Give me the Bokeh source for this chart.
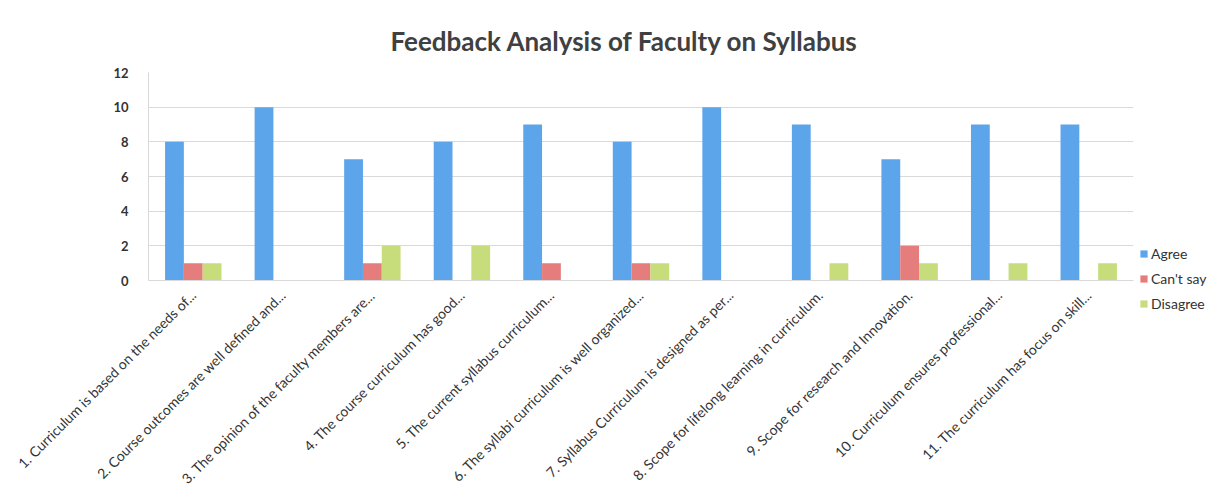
from bokeh.plotting import figure
from bokeh.models import ColumnDataSource, Legend, LegendItem, SingleIntervalTicker
from bokeh.transform import dodge
from bokeh.embed import file_html
from bokeh.resources import INLINE
import math

categories = [
    "1. Curriculum is based on the needs of...",
    "2. Course outcomes are well defined and...",
    "3. The opinion of the faculty members are...",
    "4. The course curriculum has good...",
    "5. The current syllabus curriculum...",
    "6. The syllabi curriculum is well organized...",
    "7. Syllabus Curriculum is designed as per...",
    "8. Scope for lifelong learning in curriculum.",
    "9. Scope for research and Innovation.",
    "10. Curriculum ensures professional...",
    "11. The curriculum has focus on skill...",
]
agree = [8, 10, 7, 8, 9, 8, 10, 9, 7, 9, 9]
cant_say = [1, 0, 1, 0, 1, 1, 0, 0, 2, 0, 0]
disagree = [1, 0, 2, 2, 0, 1, 0, 1, 1, 1, 1]
series_names = ["Agree", "Can't say", "Disagree"]
colors = ["#5DA5EA", "#E57D7D", "#C7DD7C"]

src = ColumnDataSource(dict(cat=categories, agree=agree, cant=cant_say, dis=disagree))

FONT = "Lato"
p = figure(x_range=categories, y_range=(0, 12), frame_width=985, frame_height=208,
           output_backend="svg", toolbar_location=None,
           min_border_left=148, min_border_top=72, min_border_right=0, min_border_bottom=0)

w = 0.21
r1 = p.vbar(x=dodge("cat", -w, range=p.x_range), top="agree", width=w, source=src,
            color=colors[0], line_color=None)
r2 = p.vbar(x=dodge("cat", 0, range=p.x_range), top="cant", width=w, source=src,
            color=colors[1], line_color=None)
r3 = p.vbar(x=dodge("cat", w, range=p.x_range), top="dis", width=w, source=src,
            color=colors[2], line_color=None)

p.title.text = "Feedback  Analysis of Faculty on Syllabus"
p.title.align = "left"
p.title.offset = 242
p.title.text_font = FONT
p.title.text_font_size = "26px"
p.title.text_color = "#404040"
p.title.text_font_style = "bold"
p.title.standoff = 32

p.yaxis.ticker = SingleIntervalTicker(interval=2)
p.yaxis.major_label_text_font = FONT
p.yaxis.major_label_text_font_size = "13px"
p.yaxis.major_label_text_font_style = "bold"
p.yaxis.major_label_text_color = "#333333"
p.yaxis.axis_line_color = "#d9d9d9"
p.yaxis.major_tick_line_color = None
p.yaxis.minor_tick_line_color = None
p.yaxis.major_label_standoff = 14

p.xaxis.major_label_orientation = math.pi / 4
p.xaxis.major_label_text_font = FONT
p.xaxis.major_label_text_font_size = "14px"
p.xaxis.major_label_text_color = "#333333"
p.xaxis.axis_line_color = "#d9d9d9"
p.xaxis.major_tick_line_color = None
p.xaxis.major_label_standoff = 6

p.xgrid.grid_line_color = None
p.ygrid.grid_line_color = "#d9d9d9"
p.outline_line_color = None
p.x_range.range_padding = 0

legend = Legend(items=[LegendItem(label=series_names[0], renderers=[r1]),
                       LegendItem(label=series_names[1], renderers=[r2]),
                       LegendItem(label=series_names[2], renderers=[r3])],
                location=(6, -32), label_text_font=FONT, label_text_font_size="14px",
                label_text_color="#333333", glyph_width=9, glyph_height=9,
                label_standoff=3, spacing=8, padding=2, margin=0,
                border_line_color=None, background_fill_alpha=0)
p.add_layout(legend, "right")

open("out.html", "w").write(file_html(p, INLINE))
